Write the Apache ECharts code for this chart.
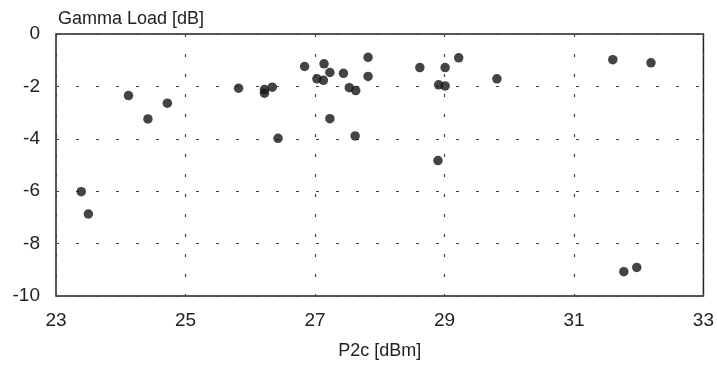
<!DOCTYPE html>
<html>
<head>
<meta charset="utf-8">
<script src="https://cdn.jsdelivr.net/npm/echarts@6/dist/echarts.min.js"></script>
<style>
  html, body { margin: 0; padding: 0; background: #fff; }
  #chart { width: 717px; height: 365px; }
</style>
</head>
<body>
<div id="chart"></div>
<script>
// P2c [dBm] vs Gamma Load [dB]
const p2c = [23.39, 23.50, 24.12, 24.42, 24.72, 25.82, 26.22, 26.22, 26.34, 26.43,
  26.84, 27.03, 27.14, 27.13, 27.23, 27.23, 27.44, 27.53, 27.63, 27.62,
  27.82, 27.82, 28.62, 28.91, 29.01, 29.01, 28.90, 29.22, 29.81, 31.60,
  32.19, 31.77, 31.97];
const gammaLoad = [-6.02, -6.87, -2.35, -3.24, -2.64, -2.07, -2.12, -2.26, -2.03, -3.98,
  -1.24, -1.71, -1.14, -1.77, -1.47, -3.23, -1.50, -2.05, -2.16, -3.89,
  -0.89, -1.62, -1.28, -1.94, -1.98, -1.28, -4.83, -0.91, -1.71, -0.98,
  -1.10, -9.07, -8.91];
const xRange = [23, 33];
const yRange = [-10, 0];

const points = p2c.map((x, i) => [x, gammaLoad[i]]);

const font = 'Liberation Sans, Arial, sans-serif';
const gridDash = {
  show: true,
  lineStyle: { color: '#444', width: 1.2, type: [3, 17] }
};

const chart = echarts.init(document.getElementById('chart'));
chart.setOption({
  backgroundColor: '#fff',
  animation: false,
  grid: {
    left: 56, right: 10, top: 34, bottom: 68,
    show: true,
    borderColor: '#222',
    borderWidth: 1.5,
    backgroundColor: 'transparent'
  },
  xAxis: {
    type: 'value',
    min: xRange[0], max: xRange[1], interval: 2,
    name: 'P2c [dBm]',
    nameLocation: 'middle',
    nameGap: 46,
    nameTextStyle: { fontFamily: font, fontSize: 18, color: '#222' },
    axisLine: { show: false },
    axisTick: { show: false },
    axisLabel: { fontFamily: font, fontSize: 19, color: '#222', margin: 15 },
    splitLine: gridDash
  },
  yAxis: {
    type: 'value',
    min: yRange[0], max: yRange[1], interval: 2,
    name: 'Gamma Load [dB]',
    nameLocation: 'end',
    nameGap: 15,
    nameTextStyle: { fontFamily: font, fontSize: 18, color: '#222', align: 'left', verticalAlign: 'middle', padding: [0, 0, 0, 2] },
    axisLine: { show: false },
    axisTick: { show: false },
    axisLabel: { fontFamily: font, fontSize: 19, color: '#222', margin: 16 },
    splitLine: gridDash
  },
  series: [{
    type: 'scatter',
    data: points,
    symbol: 'circle',
    symbolSize: 9.5,
    itemStyle: { color: '#151515' }
  }]
});
</script>
</body>
</html>
